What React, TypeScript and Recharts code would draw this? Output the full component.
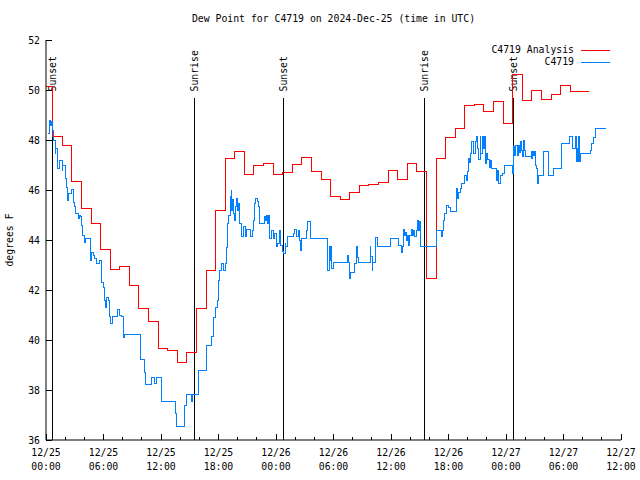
import React from "react";
import { Legend, Line, LineChart, ReferenceLine, XAxis, YAxis } from "recharts";

const FONT = "'DejaVu Sans Mono', 'Liberation Mono', monospace";
const FS = 9.8;
const C_RED = "#ff0000";
const C_BLUE = "#0080ff";

// hours since 2024-12-25 00:00 UTC
const X_TICKS = [0, 6, 12, 18, 24, 30, 36, 42, 48, 54, 60];
const X_MINOR = [0, 2, 4, 6, 8, 10, 12, 14, 16, 18, 20, 22, 24, 26, 28, 30, 32, 34, 36, 38, 40, 42, 44, 46, 48, 50, 52, 54, 56, 58, 60];
const X_DATES = ["12/25", "12/25", "12/25", "12/25", "12/26", "12/26", "12/26", "12/26", "12/27", "12/27", "12/27"];
const X_TIMES = ["00:00", "06:00", "12:00", "18:00", "00:00", "06:00", "12:00", "18:00", "00:00", "06:00", "12:00"];
const Y_TICKS = [36, 38, 40, 42, 44, 46, 48, 50, 52];

const SUN_HOURS = [0.73, 15.48, 24.76, 39.47, 48.76];
const SUN_NAMES = ["Sunset", "Sunrise", "Sunset", "Sunrise", "Sunset"];
const SUN_LINE_TOP = 49.7;

const LEGEND_ORDER = ["C4719 Analysis", "C4719"];

// hourly analysis, each value holds from hh:42 to the next hh:42
const ANALYSIS_F = [
  50.13, 48.15, 47.8, 46.35, 45.27, 44.67, 43.63, 42.83, 42.93, 42.19,
  41.28, 40.75, 39.67, 39.59, 39.1, 39.5, 41.27, 42.8, 45.2, 47.27,
  47.53, 46.64, 47.0, 47.07, 46.62, 46.71, 47.04, 47.31, 46.73, 46.43,
  45.73, 45.63, 45.92, 46.19, 46.24, 46.29, 46.79, 46.43, 47.07, 46.75,
  42.47, 47.27, 48.11, 48.47, 49.4, 49.44, 49.13, 49.53, 48.67, 50.63,
  49.6, 49.99, 49.64, 49.84, 50.19, 49.95, 49.95,
];
const ANALYSIS_END = 56.7;

// station observations
const OBS_H = [
  0.24, 0.34, 0.52, 0.59, 0.63, 0.8, 0.94, 1.01, 1.15, 1.22, 1.41, 1.7, 1.77, 2.01, 2.14, 2.24, 2.3, 2.61,
  2.89, 2.95, 3.13, 3.44, 3.5, 3.65, 3.73, 3.86, 4.0, 4.07, 4.64, 4.77, 4.94, 5.04, 5.22, 5.63, 5.74, 5.84,
  5.98, 6.1, 6.19, 6.33, 6.54, 6.61, 6.71, 6.96, 7.41, 7.65, 7.83, 8.11, 8.17, 9.84, 10.26, 10.36, 11.03,
  11.3, 11.48, 12.0, 12.07, 13.53, 13.6, 14.5, 14.61, 15.2, 15.31, 15.89, 16.73, 16.77, 17.22, 17.43, 17.64,
  17.88, 17.98, 18.1, 18.29, 18.57, 18.71, 18.82, 18.89, 18.96, 19.07, 19.2, 19.31, 19.38, 19.48, 19.59,
  19.65, 19.75, 19.9, 20.0, 20.11, 20.24, 20.35, 20.45, 20.59, 20.8, 20.94, 21.39, 21.5, 21.63, 21.74, 21.84,
  22.02, 22.15, 22.26, 22.33, 22.78, 22.89, 23.03, 23.14, 23.24, 23.37, 23.48, 23.72, 23.82, 24.07, 24.18,
  24.34, 24.52, 24.7, 24.8, 24.94, 25.04, 25.15, 25.85, 25.91, 26.19, 26.33, 26.43, 26.54, 26.61, 27.2,
  27.31, 27.55, 27.65, 29.39, 29.56, 29.67, 29.74, 29.84, 29.98, 31.41, 31.54, 31.65, 31.75, 32.24, 32.42,
  32.53, 32.59, 33.84, 33.91, 34.02, 34.12, 34.43, 34.54, 35.93, 36.76, 37.12, 37.2, 37.28, 37.39, 37.51,
  37.64, 37.74, 37.85, 37.98, 38.16, 38.26, 38.37, 38.5, 38.61, 38.79, 38.89, 38.96, 39.03, 40.77, 41.32,
  41.39, 41.5, 41.56, 41.74, 41.98, 42.19, 42.86, 42.96, 43.07, 43.2, 43.38, 43.65, 43.83, 43.94, 44.07,
  44.18, 44.28, 44.45, 44.56, 44.63, 44.77, 44.87, 45.05, 45.15, 45.29, 45.39, 45.5, 45.63, 45.74, 45.84,
  45.95, 46.09, 46.26, 46.38, 46.51, 47.03, 47.14, 47.25, 47.38, 47.66, 47.83, 48.71, 48.81, 48.87, 48.98,
  49.15, 49.29, 49.39, 49.49, 49.6, 49.67, 49.81, 49.92, 50.02, 50.61, 50.68, 50.79, 50.87, 50.95, 51.06,
  51.23, 51.31, 51.41, 51.89, 52.46, 52.94, 53.84, 54.61, 54.99, 55.23, 55.31, 55.41, 55.49, 55.55, 55.65,
  55.76, 56.8, 56.94, 57.15, 57.32, 58.43,
];
const OBS_F = [
  48.27, 48.8, 48.6, 48.75, 48.4, 48.0, 47.48, 47.65, 47.2, 46.88, 47.2, 46.8, 47.0, 46.48, 46.1, 45.6, 45.87, 46.03,
  45.5, 45.36, 45.07, 44.85, 45.0, 44.93, 44.6, 44.2, 43.9, 44.07, 43.2, 43.5, 43.4, 43.27, 43.07, 43.2, 42.6, 42.3,
  42.1, 41.6, 41.3, 41.7, 41.6, 40.93, 40.67, 40.93, 41.23, 41.0, 40.93, 40.1, 40.24, 39.23, 38.7, 38.24, 38.49,
  38.27, 38.49, 38.03, 37.56, 37.07, 36.56, 37.4, 37.83, 37.56, 37.83, 38.79, 39.3, 39.8, 40.13, 40.9, 41.3,
  41.6, 42.4, 42.8, 43.07, 42.8, 43.07, 43.7, 44.4, 44.67, 45.0, 45.73, 46.0, 45.2, 45.63, 45.07,
  44.8, 45.33, 45.67, 45.2, 45.47, 44.67, 44.4, 44.13, 44.53, 44.13, 44.43, 44.13, 44.4, 44.8, 45.47, 45.67,
  45.53, 45.33, 45.07, 44.67, 44.93, 44.8, 45.0, 44.67, 45.0, 44.07, 44.4, 44.07, 44.27, 43.73, 43.87,
  44.4, 43.8, 43.53, 43.47, 43.87, 43.73, 44.13, 44.27, 44.43, 44.13, 44.4, 44.0, 43.6, 44.07, 44.4,
  44.73, 44.13, 44.07, 42.8, 43.73, 43.2, 43.73, 42.87, 43.09, 43.4, 43.1, 42.47, 42.69, 43.07, 43.73,
  43.3, 43.12, 43.76, 43.33, 42.8, 43.09, 44.11, 43.76, 44.07, 43.8, 43.49, 43.76, 44.43, 44.2, 44.3,
  44.0, 44.2, 43.8, 44.2, 44.43, 44.2, 44.4, 44.13, 44.4, 44.8, 44.4, 44.73, 43.76, 44.4, 44.13,
  44.4, 44.8, 45.07, 45.4, 45.3, 45.13, 46.07, 45.67, 45.9, 46.07, 46.27, 46.6, 46.4, 46.73, 47.27,
  47.1, 47.47, 47.93, 47.67, 47.47, 47.93, 48.16, 47.67, 47.23, 48.16, 47.47, 48.16, 47.67, 48.16, 47.07,
  47.47, 47.23, 46.9, 47.2, 46.87, 46.4, 46.8, 46.27, 46.6, 46.67, 47.0, 46.67, 47.73, 47.4, 47.8,
  47.4, 47.8, 47.5, 47.93, 47.6, 47.33, 48.0, 47.6, 47.33, 47.53, 47.27, 47.53, 47.4, 47.53, 47.0,
  46.87, 46.27, 46.6, 47.53, 46.6, 46.87, 47.87, 48.16, 47.67, 48.16, 47.13, 47.67, 47.13, 48.16, 47.13,
  47.47, 47.6, 47.87, 48.1, 48.47, 48.47,
];

const analysisData = [
  ...ANALYSIS_F.map((v, i) => ({ h: i === 0 ? 0.05 : i - 0.3, v })),
  { h: ANALYSIS_END, v: ANALYSIS_F[ANALYSIS_F.length - 1] },
];
const obsData = OBS_H.map((h, i) => ({ h, v: OBS_F[i] }));

const txt = { fontFamily: FONT, fontSize: FS, fill: "#000" };

function BottomTick({ x, y, payload }: any) {
  const h = payload.value;
  const major = h % 6 === 0;
  const i = h / 6;
  return (
    <g>
      <line x1={x} x2={x} y1={y} y2={y - (major ? 6 : 3)} stroke="#000" shapeRendering="crispEdges" />
      {major && (
        <text x={x} y={y + 16} textAnchor="middle" {...txt}>
          {X_DATES[i]}
        </text>
      )}
      {major && (
        <text x={x} y={y + 30} textAnchor="middle" {...txt}>
          {X_TIMES[i]}
        </text>
      )}
    </g>
  );
}

function TopTick({ x, y, payload }: any) {
  const major = payload.value % 6 === 0;
  return <line x1={x} x2={x} y1={y} y2={y + (major ? 6 : 3)} stroke="#000" shapeRendering="crispEdges" />;
}

function LeftTick({ x, y, payload }: any) {
  return (
    <g>
      <line x1={x} x2={x + 6} y1={y} y2={y} stroke="#000" shapeRendering="crispEdges" />
      <text x={x - 6} y={y} dy={3.5} textAnchor="end" {...txt}>
        {payload.value}
      </text>
    </g>
  );
}

function RightTick({ x, y }: any) {
  return <line x1={x} x2={x - 6} y1={y} y2={y} stroke="#000" shapeRendering="crispEdges" />;
}

function SunLabel({ viewBox, text }: any) {
  if (!viewBox) return null;
  const x = viewBox.x;
  const y = viewBox.y - 6;
  return (
    <text x={x} y={y} dy={3.5} transform={`rotate(-90 ${x} ${y})`} textAnchor="start" {...txt}>
      {text}
    </text>
  );
}

function LegendBox({ payload }: any) {
  const items = [...(payload ?? [])].sort(
    (a: any, b: any) => LEGEND_ORDER.indexOf(a.value) - LEGEND_ORDER.indexOf(b.value)
  );
  return (
    <div style={{ fontFamily: FONT, fontSize: FS, lineHeight: "12.3px", color: "#000" }}>
      {items.map((p: any) => (
        <div key={p.value} style={{ display: "flex", justifyContent: "flex-end", alignItems: "center" }}>
          <span style={{ whiteSpace: "pre" }}>{p.value}</span>
          <span style={{ display: "inline-block", width: 29, height: 1, background: p.color, marginLeft: 7 }} />
        </div>
      ))}
    </div>
  );
}

export default function App() {
  return (
    <div style={{ position: "absolute", left: 0, top: 0, width: 640, height: 480, background: "#fff" }}>
      <div
        style={{
          position: "absolute",
          left: 46,
          width: 575,
          top: 13,
          textAlign: "center",
          fontFamily: FONT,
          fontSize: FS,
          lineHeight: "12px",
          whiteSpace: "pre",
        }}
      >
        Dew Point for C4719 on 2024-Dec-25 (time in UTC)
      </div>
      <div
        style={{
          position: "absolute",
          left: 10,
          top: 240,
          transform: "translate(-50%, -50%) rotate(-90deg)",
          fontFamily: FONT,
          fontSize: FS,
          lineHeight: "12px",
          whiteSpace: "pre",
        }}
      >
        degrees F
      </div>
      <LineChart width={640} height={480} margin={{ top: 40, right: 19, bottom: 0, left: 0 }}>
        <XAxis
          xAxisId="b"
          dataKey="h"
          type="number"
          domain={[0, 60]}
          ticks={X_MINOR}
          interval={0}
          height={40}
          tickSize={0}
          tickMargin={0}
          tick={<BottomTick />}
          tickLine={false}
          axisLine={{ stroke: "#000" }}
          allowDataOverflow
        />
        <XAxis
          xAxisId="t"
          orientation="top"
          dataKey="h"
          type="number"
          domain={[0, 60]}
          ticks={X_MINOR}
          interval={0}
          height={0}
          tickSize={0}
          tickMargin={0}
          tick={<TopTick />}
          tickLine={false}
          axisLine={{ stroke: "#000" }}
          allowDataOverflow
        />
        <YAxis
          yAxisId="l"
          type="number"
          domain={[36, 52]}
          ticks={Y_TICKS}
          interval={0}
          width={46}
          tickSize={0}
          tickMargin={0}
          tick={<LeftTick />}
          tickLine={false}
          axisLine={{ stroke: "#000" }}
          allowDataOverflow
        />
        <YAxis
          yAxisId="r"
          orientation="right"
          type="number"
          domain={[36, 52]}
          ticks={Y_TICKS}
          interval={0}
          width={0}
          tickSize={0}
          tickMargin={0}
          tick={<RightTick />}
          tickLine={false}
          axisLine={{ stroke: "#000" }}
          allowDataOverflow
        />
        <Legend
          layout="horizontal"
          verticalAlign="middle"
          align="center"
          content={<LegendBox />}
          wrapperStyle={{ position: "absolute", top: 44, right: 30, left: "auto", bottom: "auto", width: "auto" }}
        />
        {SUN_HOURS.map((h, i) => (
          <ReferenceLine
            key={i}
            xAxisId="b"
            yAxisId="l"
            segment={[
              { x: h, y: 36 },
              { x: h, y: SUN_LINE_TOP },
            ]}
            stroke="#000"
            strokeWidth={1}
            shapeRendering="crispEdges"
            label={<SunLabel text={SUN_NAMES[i]} />}
          />
        ))}
        <Line
          xAxisId="b"
          yAxisId="l"
          data={analysisData}
          dataKey="v"
          name="C4719 Analysis"
          type="stepAfter"
          stroke={C_RED}
          strokeWidth={1}
          dot={false}
          activeDot={false}
          isAnimationActive={false}
          shapeRendering="crispEdges"
        />
        <Line
          xAxisId="b"
          yAxisId="l"
          data={obsData}
          dataKey="v"
          name="C4719"
          type="stepAfter"
          stroke={C_BLUE}
          strokeWidth={1}
          dot={false}
          activeDot={false}
          isAnimationActive={false}
          shapeRendering="crispEdges"
        />
      </LineChart>
    </div>
  );
}
